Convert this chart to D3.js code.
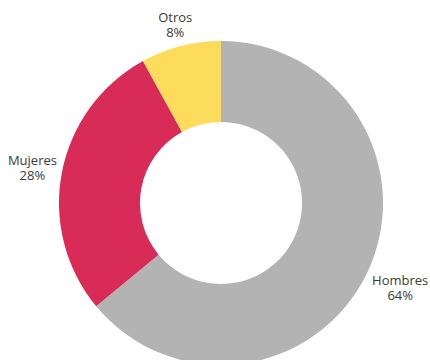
<!DOCTYPE html>
<html>
<head>
<meta charset="utf-8">
<script src="https://cdn.jsdelivr.net/npm/d3@7"></script>
<style>
  html, body { margin: 0; padding: 0; background: #ffffff; }
  svg { display: block; }
  text { font-family: "Open Sans", "Noto Sans", sans-serif; }
</style>
</head>
<body>
<svg id="chart" width="430" height="360"></svg>
<script>
// Distribution by gender
const categories = ["Hombres", "Mujeres", "Otros"];
const shares = [64, 28, 8];
const colors = ["#b3b3b3", "#d82b57", "#fedc5b"];

const width = 430, height = 360;
const cx = 221, cy = 203;
const outerR = 162, innerR = 81;

const svg = d3.select("#chart");
const g = svg.append("g").attr("transform", `translate(${cx},${cy})`);

const data = categories.map((c, i) => ({ name: c, value: shares[i], color: colors[i] }));

const pie = d3.pie().value(d => d.value).sort(null);
const arc = d3.arc().innerRadius(innerR).outerRadius(outerR);
const arcs = pie(data);

g.selectAll("path.slice")
  .data(arcs)
  .join("path")
  .attr("class", "slice")
  .attr("d", arc)
  .attr("fill", d => d.data.color);

// Two-line labels placed just outside the ring along each slice's mid-angle
const gap = 5;
const labels = g.selectAll("g.label")
  .data(arcs)
  .join("g")
  .attr("class", "label");

labels.each(function (d) {
  const lg = d3.select(this);
  const t = lg.append("text")
    .attr("text-anchor", "middle")
    .attr("font-size", 13)
    .attr("fill", "#3a3a3a");
  t.append("tspan").attr("x", 0).attr("y", 0).text(d.data.name);
  t.append("tspan").attr("x", 0).attr("dy", 15).text(d.data.value + "%");

  const bb = t.node().getBBox();
  const hw = bb.width / 2, hh = bb.height / 2;
  const mid = (d.startAngle + d.endAngle) / 2;
  const sx = Math.sin(mid), cyy = -Math.cos(mid);
  const ext = Math.min(
    Math.abs(sx) > 1e-6 ? hw / Math.abs(sx) : Infinity,
    Math.abs(cyy) > 1e-6 ? hh / Math.abs(cyy) : Infinity
  );
  const r = outerR + gap + ext;
  const px = r * sx, py = r * cyy;
  // shift so the text block's center sits on (px, py)
  const ox = px - (bb.x + hw);
  const oy = py - (bb.y + hh);
  lg.attr("transform", `translate(${ox},${oy})`);
});
</script>
</body>
</html>
